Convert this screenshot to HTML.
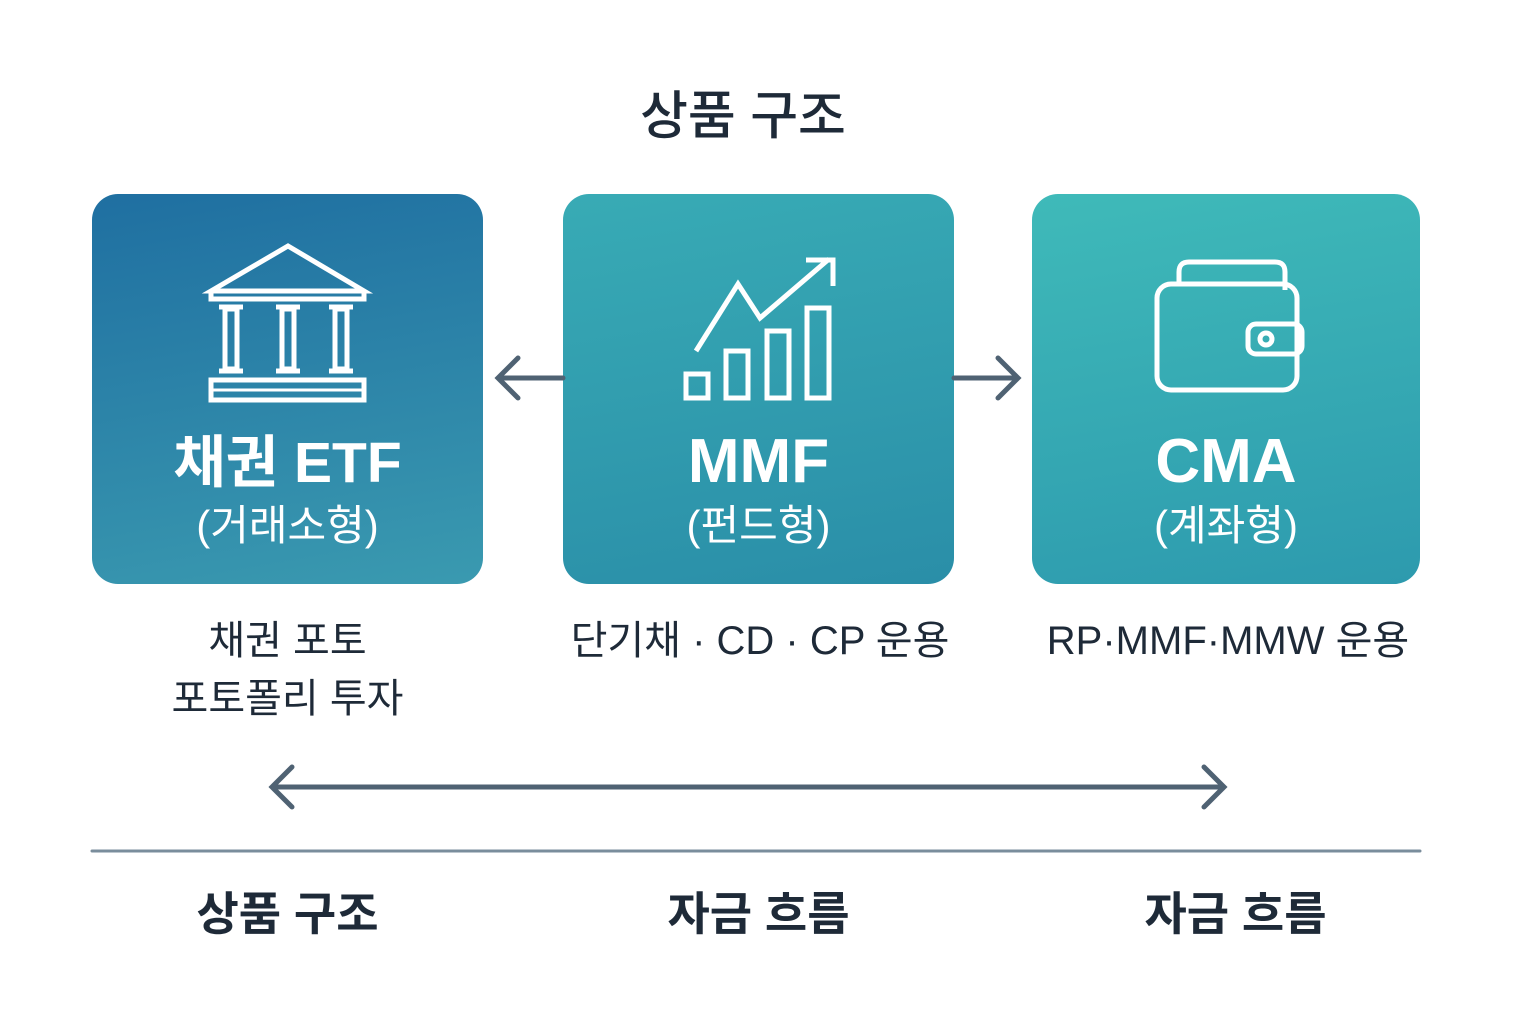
<!DOCTYPE html>
<html><head><meta charset="utf-8"><style>
body{margin:0;width:1536px;height:1024px;background:#fff;position:relative;font-family:"Liberation Sans","Noto Sans CJK KR",sans-serif;color:#1e2a38;overflow:hidden}
.t{position:absolute;text-align:center;white-space:nowrap}
.box{position:absolute;top:194px;height:390px;border-radius:26px}
.h{position:absolute;left:0;right:0;text-align:center;color:#fff;font-weight:700;font-size:62px;top:232px}
.s{position:absolute;left:0;right:0;text-align:center;color:#fff;font-size:42px;top:298px}
</style></head><body>
<div class="t" style="left:0;width:1486px;top:74px;font-size:52px;font-weight:500">상품 구조</div>

<div class="box" style="left:92px;width:391px;background:linear-gradient(170deg,#1f6fa1,#3a9ab0)">
<svg style="position:absolute;left:0;top:0" width="391" height="390" fill="none" stroke="#fff" stroke-width="5">
<path d="M119 97 L196 52 L272 97 Z M119 97 V105 H272 V97"/>
<rect x="133" y="115" width="12" height="60"/><rect x="190" y="115" width="12" height="60"/><rect x="243" y="115" width="12" height="60"/>
<path d="M127 113 H151 M127 177 H151 M184 113 H208 M184 177 H208 M237 113 H261 M237 177 H261"/>
<rect x="119" y="186" width="153" height="20"/><path d="M119 196 H272" stroke-width="3"/>
</svg>
<div class="h" style="font-size:57px;top:223px">채권 ETF</div><div class="s">(거래소형)</div></div>

<div class="box" style="left:563px;width:391px;background:linear-gradient(170deg,#38abb5,#2a8ea8)">
<svg style="position:absolute;left:0;top:0" width="391" height="390" fill="none" stroke="#fff" stroke-width="5">
<path d="M133 157 L175 90 L197 124 L266 65 M243 66 H270 V92"/>
<rect x="123" y="180" width="22" height="24"/><rect x="163" y="157" width="22" height="47"/><rect x="204" y="137" width="22" height="67"/><rect x="244" y="114" width="22" height="90"/>
</svg>
<div class="h">MMF</div><div class="s">(펀드형)</div></div>

<div class="box" style="left:1032px;width:388px;background:linear-gradient(170deg,#3fbab9,#2d9aae)">
<svg style="position:absolute;left:0;top:0" width="388" height="390" fill="none" stroke="#fff" stroke-width="5">
<path d="M147 88 V78 Q147 68 157 68 H243 Q253 68 253 78 V96"/>
<rect x="125" y="90" width="140" height="106" rx="14"/>
<rect x="216" y="130" width="54" height="30" rx="8"/><circle cx="234" cy="145" r="6"/>
</svg>
<div class="h">CMA</div><div class="s">(계좌형)</div></div>

<svg style="position:absolute;left:0;top:0" width="1536" height="1024" fill="none" stroke="#4f6273" stroke-width="5" stroke-linecap="round">
<path d="M563 378 H500 M518 358 L498 378 L518 398"/>
<path d="M954 378 H1016 M998 358 L1018 378 L998 398"/>
<path d="M272 787 H1224 M292 767 L272 787 L292 807 M1204 767 L1224 787 L1204 807"/>
<path d="M92 851 H1420" stroke="#7a8d9c" stroke-width="3"/>
</svg>

<div class="t" style="left:92px;width:391px;top:612px;font-size:40px;line-height:58px">채권 포토<br>포토폴리 투자</div>
<div class="t" style="left:540px;width:440px;top:612px;font-size:40px;line-height:58px">단기채 · CD · CP 운용</div>
<div class="t" style="left:1010px;width:436px;top:612px;font-size:40px;line-height:58px">RP·MMF·MMW 운용</div>

<div class="t" style="left:92px;width:391px;top:878px;font-size:46px;font-weight:700">상품 구조</div>
<div class="t" style="left:563px;width:391px;top:878px;font-size:46px;font-weight:700">자금 흐름</div>
<div class="t" style="left:1040px;width:391px;top:878px;font-size:46px;font-weight:700">자금 흐름</div>
</body></html>
